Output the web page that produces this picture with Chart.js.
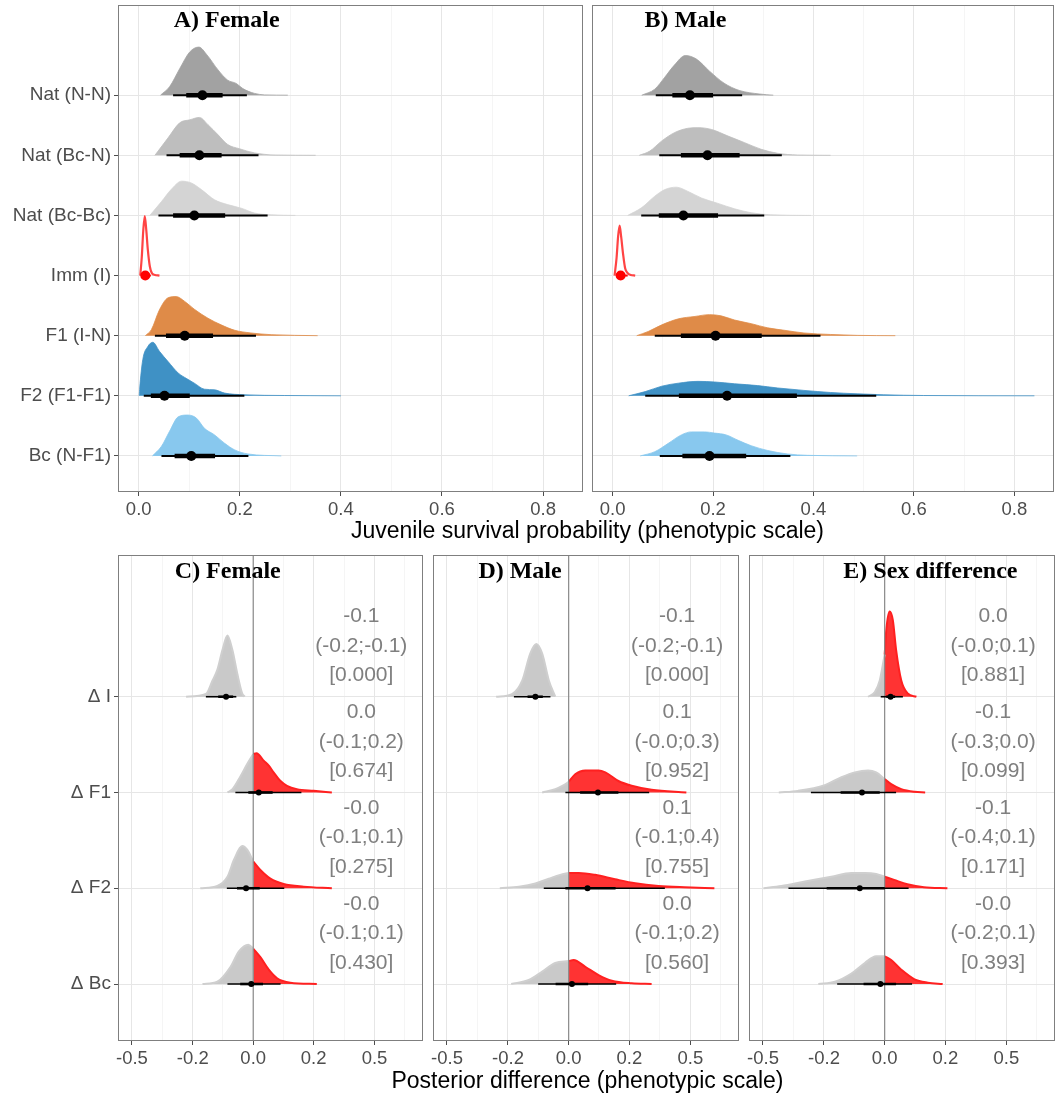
<!DOCTYPE html>
<html>
<head>
<meta charset="utf-8">
<script src="https://cdn.jsdelivr.net/npm/chart.js@4.4.1/dist/chart.umd.min.js"></script>
<style>
  body { margin: 0; background: #fff; width: 1059px; height: 1094px; position: relative; overflow: hidden;
         font-family: "Liberation Sans", Arial, sans-serif; }
  canvas { position: absolute; }
  .xtitle { position: absolute; left: 0; width: 1175px; text-align: center; font-size: 23px; color: #000; line-height: 26px; }
</style>
</head>
<body>
<canvas id="panelA" width="588" height="520" style="left:0;top:0"></canvas>
<canvas id="panelB" width="491" height="520" style="left:568px;top:0"></canvas>
<canvas id="panelC" width="427" height="530" style="left:0;top:540px"></canvas>
<canvas id="panelD" width="334" height="530" style="left:409px;top:540px"></canvas>
<canvas id="panelE" width="334" height="530" style="left:725px;top:540px"></canvas>
<div class="xtitle" style="top:517px">Juvenile survival probability (phenotypic scale)</div>
<div class="xtitle" style="top:1067px">Posterior difference (phenotypic scale)</div>
<script>
// ---- survival (top row) ----
const survivalRows = ["Nat (N-N)", "Nat (Bc-N)", "Nat (Bc-Bc)", "Imm (I)", "F1 (I-N)", "F2 (F1-F1)", "Bc (N-F1)"];
const survivalTicks = [0, 0.2, 0.4, 0.6, 0.8];
const survivalMinor = [0.1, 0.3, 0.5, 0.7];

// posterior density outlines: [survival, height in row units]
const femaleDensity = [
  [[0.043,0],[0.061,0.14],[0.081,0.44],[0.101,0.72],[0.119,0.80],[0.135,0.67],[0.157,0.42],[0.176,0.25],[0.193,0.195],[0.206,0.11],[0.229,0.03],[0.249,0.005],[0.295,0]],
  [[0.032,0],[0.058,0.29],[0.081,0.54],[0.101,0.59],[0.12,0.63],[0.137,0.51],[0.157,0.34],[0.176,0.18],[0.199,0.11],[0.229,0.04],[0.27,0.005],[0.35,0]],
  [[0.022,0],[0.045,0.23],[0.064,0.43],[0.085,0.57],[0.104,0.54],[0.124,0.43],[0.15,0.26],[0.176,0.18],[0.203,0.12],[0.229,0.04],[0.262,0.01],[0.31,0]],
  [[0.003,0],[0.006,0.3],[0.009,0.75],[0.012,0.99],[0.015,0.75],[0.018,0.43],[0.022,0.15],[0.026,0.04],[0.032,0.01],[0.041,0]],
  [[0.013,0],[0.025,0.1],[0.041,0.43],[0.058,0.63],[0.074,0.65],[0.091,0.57],[0.11,0.44],[0.137,0.29],[0.163,0.18],[0.19,0.09],[0.222,0.045],[0.262,0.017],[0.354,0]],
  [[0.001,0],[0.002,0.13],[0.008,0.6],[0.018,0.82],[0.028,0.89],[0.041,0.74],[0.058,0.57],[0.078,0.38],[0.094,0.29],[0.11,0.21],[0.13,0.11],[0.15,0.1],[0.17,0.045],[0.209,0.017],[0.288,0.005],[0.4,0]],
  [[0.027,0],[0.045,0.16],[0.061,0.41],[0.078,0.65],[0.097,0.68],[0.114,0.63],[0.13,0.46],[0.15,0.35],[0.17,0.21],[0.19,0.1],[0.216,0.033],[0.282,0]]
];
const maleDensity = [
  [[0.058,0],[0.084,0.1],[0.104,0.3],[0.123,0.5],[0.145,0.66],[0.167,0.6],[0.193,0.4],[0.222,0.2],[0.252,0.08],[0.292,0.02],[0.32,0]],
  [[0.053,0],[0.074,0.07],[0.098,0.24],[0.124,0.38],[0.15,0.45],[0.17,0.46],[0.197,0.43],[0.23,0.32],[0.263,0.21],[0.296,0.1],[0.329,0.033],[0.368,0.005],[0.434,0]],
  [[0.030,0],[0.058,0.13],[0.084,0.32],[0.104,0.43],[0.127,0.47],[0.15,0.4],[0.177,0.29],[0.21,0.2],[0.243,0.11],[0.276,0.045],[0.315,0.01],[0.395,0]],
  [[0.004,0],[0.008,0.3],[0.011,0.65],[0.014,0.83],[0.017,0.65],[0.021,0.35],[0.025,0.12],[0.03,0.04],[0.036,0.01],[0.045,0]],
  [[0.048,0],[0.071,0.07],[0.098,0.18],[0.131,0.28],[0.164,0.32],[0.193,0.35],[0.216,0.33],[0.243,0.26],[0.276,0.2],[0.309,0.13],[0.342,0.09],[0.381,0.045],[0.434,0.02],[0.487,0.005],[0.563,0]],
  [[0.032,0],[0.065,0.07],[0.098,0.16],[0.131,0.21],[0.17,0.24],[0.203,0.23],[0.243,0.2],[0.289,0.17],[0.329,0.13],[0.381,0.09],[0.434,0.055],[0.487,0.033],[0.54,0.017],[0.619,0.005],[0.84,0]],
  [[0.055,0],[0.084,0.07],[0.111,0.21],[0.137,0.35],[0.157,0.4],[0.183,0.4],[0.203,0.38],[0.226,0.35],[0.25,0.26],[0.276,0.17],[0.309,0.09],[0.348,0.033],[0.388,0.01],[0.487,0]]
];
// [median, 66% low, 66% high, 95% low, 95% high]
const femaleIntervals = [
  [0.126, 0.094, 0.166, 0.068, 0.214],
  [0.120, 0.081, 0.164, 0.055, 0.237],
  [0.110, 0.068, 0.171, 0.039, 0.255],
  [0.013, 0.010, 0.017, 0.007, 0.024],
  [0.091, 0.054, 0.147, 0.032, 0.232],
  [0.051, 0.024, 0.101, 0.010, 0.209],
  [0.104, 0.071, 0.151, 0.045, 0.217]
];
const maleIntervals = [
  [0.154, 0.119, 0.200, 0.086, 0.258],
  [0.189, 0.136, 0.253, 0.093, 0.337],
  [0.141, 0.092, 0.210, 0.057, 0.302],
  [0.016, 0.012, 0.021, 0.008, 0.030],
  [0.205, 0.136, 0.297, 0.084, 0.414],
  [0.228, 0.132, 0.367, 0.065, 0.525],
  [0.193, 0.139, 0.266, 0.094, 0.354]
];

// ---- differences (bottom row) ----
const diffRows = ["\u0394 I", "\u0394 F1", "\u0394 F2", "\u0394 Bc"];
const diffTicks = [-0.5, -0.2, 0, 0.2, 0.5];

const femaleDiffDensity = [
  [[-0.226,0],[-0.152,0.028],[-0.129,0.17],[-0.113,0.28],[-0.096,0.49],[-0.080,0.64],[-0.0645,0.49],[-0.049,0.24],[-0.034,0.035],[-0.026,0]],
  [[-0.080,0],[-0.064,0.035],[-0.039,0.17],[-0.018,0.30],[0,0.40],[0.01,0.41],[0.033,0.33],[0.048,0.28],[0.063,0.21],[0.085,0.12],[0.106,0.07],[0.139,0.035],[0.2,0.017],[0.274,0]],
  [[-0.172,0],[-0.113,0.024],[-0.08,0.12],[-0.059,0.30],[-0.034,0.44],[-0.018,0.40],[0,0.28],[0.022,0.19],[0.053,0.10],[0.095,0.045],[0.163,0.017],[0.274,0]],
  [[-0.164,0],[-0.113,0.024],[-0.07,0.18],[-0.044,0.34],[-0.015,0.41],[0,0.37],[0.022,0.28],[0.048,0.15],[0.074,0.06],[0.117,0.014],[0.212,0]]
];
const maleDiffDensity = [
  [[-0.247,0],[-0.185,0.028],[-0.148,0.17],[-0.121,0.45],[-0.101,0.55],[-0.082,0.45],[-0.061,0.17],[-0.041,0]],
  [[-0.082,0],[-0.041,0.035],[-0.015,0.077],[0,0.11],[0.02,0.19],[0.051,0.23],[0.093,0.23],[0.115,0.21],[0.16,0.12],[0.209,0.07],[0.292,0.028],[0.475,0]],
  [[-0.232,0],[-0.16,0.017],[-0.104,0.05],[-0.061,0.10],[-0.026,0.14],[0,0.16],[0.031,0.16],[0.082,0.14],[0.148,0.094],[0.223,0.052],[0.324,0.024],[0.465,0.01],[0.675,0]],
  [[-0.188,0],[-0.126,0.042],[-0.082,0.13],[-0.041,0.22],[0,0.24],[0.015,0.25],[0.051,0.18],[0.093,0.094],[0.137,0.035],[0.209,0.007],[0.292,0]]
];
const sexDiffDensity = [
  [[-0.051,0],[-0.030,0.05],[-0.015,0.17],[0,0.44],[0.005,0.70],[0.015,0.89],[0.025,0.80],[0.035,0.49],[0.051,0.17],[0.071,0.035],[0.099,0]],
  [[-0.406,0],[-0.309,0.017],[-0.197,0.077],[-0.137,0.16],[-0.093,0.21],[-0.051,0.23],[-0.026,0.21],[0,0.14],[0.02,0.087],[0.051,0.035],[0.093,0.007],[0.128,0]],
  [[-0.497,0],[-0.392,0.024],[-0.278,0.07],[-0.173,0.12],[-0.104,0.16],[-0.061,0.16],[-0.026,0.15],[0,0.12],[0.029,0.087],[0.07,0.042],[0.124,0.01],[0.208,0]],
  [[-0.222,0],[-0.16,0.024],[-0.104,0.11],[-0.061,0.22],[-0.026,0.29],[0,0.29],[0.02,0.25],[0.051,0.15],[0.093,0.049],[0.137,0.014],[0.19,0]]
];
// [median, 66% low, 66% high, 95% low, 95% high]
const femaleDiffIntervals = [
  [-0.0845, -0.110, -0.062, -0.152, -0.052],
  [0.017, -0.015, 0.060, -0.055, 0.155],
  [-0.022, -0.050, 0.020, -0.082, 0.097],
  [-0.006, -0.040, 0.030, -0.080, 0.085]
];
const maleDiffIntervals = [
  [-0.104, -0.130, -0.080, -0.178, -0.056],
  [0.091, 0.035, 0.160, -0.010, 0.281],
  [0.058, -0.010, 0.150, -0.077, 0.355],
  [0.010, -0.040, 0.060, -0.095, 0.152]
];
const sexDiffIntervals = [
  [0.018, 0.005, 0.032, -0.012, 0.056],
  [-0.070, -0.140, -0.015, -0.252, 0.035],
  [-0.077, -0.190, 0.000, -0.355, 0.074],
  [-0.013, -0.065, 0.035, -0.152, 0.085]
];
// posterior probability of a positive difference
const femaleDiffProb = ["0.000", "0.674", "0.275", "0.430"];
const maleDiffProb = ["0.000", "0.952", "0.755", "0.560"];
const sexDiffProb = ["0.881", "0.099", "0.171", "0.393"];

// ---- styling ----
const FONT = "'Liberation Sans', Arial, sans-serif";
const TITLE_FONT = "bold 24px 'Liberation Serif', 'Times New Roman', serif";
const survivalFill = ["#a2a2a2", "#bebebe", "#d4d4d4", null, "#df8b48", "#3f91c5", "#88c8ee"];
const IMM_RED = "#ff4444";
const GREY_FILL = "#c9c9c9";
const RED_FILL = "#ff3333";
const DIFF_SIGMA = 0.27;       // asinh-style stretch of the difference axis
const STAT_X = 0.42;           // where the summary text sits (difference units)
const STAT_DY = 0.53;          // middle line of the summary, above its row

function stepOf(v) {
  return 2 * Math.asinh(v / DIFF_SIGMA) / Math.asinh(0.5 / DIFF_SIGMA);
}

function gridTicks(majors, minors, fmt) {
  const ticks = majors.map(v => ({ value: v, label: fmt(v) }))
    .concat(minors.map(v => ({ value: v, label: "", minor: true })));
  return ticks.sort((a, b) => a.value - b.value);
}

function xAxis(min, max, ticks, height) {
  return {
    type: "linear", min: min, max: max,
    afterBuildTicks: s => { s.ticks = ticks.map(t => Object.assign({}, t)); },
    afterFit: s => { s.height = height; s.paddingLeft = 0; s.paddingRight = 0; },
    ticks: {
      autoSkip: false, maxRotation: 0, padding: 3, color: "#4d4d4d",
      font: { family: FONT, size: 18.5 },
      callback: function (v, i) { return this.ticks[i].label; }
    },
    grid: {
      color: c => (c.tick && c.tick.minor ? "#f3f3f3" : "#e6e6e6"),
      lineWidth: c => (c.tick && c.tick.minor ? 0.8 : 1),
      tickColor: c => (c.tick && c.tick.minor ? "rgba(0,0,0,0)" : "#4d4d4d"),
      tickLength: 4, drawTicks: true
    },
    border: { display: false }
  };
}

function yAxis(min, max, labels, showLabels) {
  const n = labels.length;
  return {
    type: "linear", min: min, max: max,
    afterBuildTicks: s => { s.ticks = labels.map((l, i) => ({ value: n - i })); },
    afterFit: s => { s.width = showLabels ? 118 : 0; s.paddingTop = 0; s.paddingBottom = 0; },
    ticks: {
      display: showLabels, autoSkip: false, padding: 3, color: "#4d4d4d",
      font: { family: FONT, size: 19 },
      callback: v => labels[n - v]
    },
    grid: { color: "#e6e6e6", lineWidth: 1, tickColor: "#4d4d4d", tickLength: 4, drawTicks: showLabels },
    border: { display: false }
  };
}

function curveSet(pts, row, xf, style) {
  return Object.assign({
    data: pts.map(p => ({ x: xf(p[0]), y: row + p[1] })),
    fill: { value: row }, pointRadius: 0, borderWidth: 1,
    cubicInterpolationMode: "monotone", order: 4
  }, style);
}

function intervalSets(iv, row, xf, colour, thin, thick, dot) {
  const seg = (a, b, w) => ({
    data: [{ x: xf(a), y: row }, { x: xf(b), y: row }],
    borderColor: colour, borderWidth: w, borderCapStyle: "butt",
    pointRadius: 0, fill: false, order: 2
  });
  return [
    seg(iv[3], iv[4], thin),
    seg(iv[1], iv[2], thick),
    { data: [{ x: xf(iv[0]), y: row }], showLine: false, pointRadius: dot,
      pointBackgroundColor: colour, pointBorderWidth: 0, order: 1 }
  ];
}

// frame round the panel, panel title and the difference summaries
const panelDecor = {
  id: "panelDecor",
  afterDraw(chart, args, opts) {
    const { ctx, chartArea: a, scales } = chart;
    ctx.save();
    ctx.strokeStyle = "#7f7f7f";
    ctx.lineWidth = 1;
    ctx.strokeRect(a.left + 0.5, a.top + 0.5, a.width - 1, a.height - 1);

    ctx.fillStyle = "#000";
    ctx.font = TITLE_FONT;
    ctx.textAlign = "center";
    ctx.textBaseline = "middle";
    ctx.fillText(opts.title, scales.x.getPixelForValue(opts.titleX), scales.y.getPixelForValue(opts.titleY));

    if (opts.stats) {
      ctx.fillStyle = "#7f7f7f";
      ctx.font = "21px " + FONT;
      const n = opts.stats.iv.length;
      opts.stats.iv.forEach((iv, i) => {
        const row = n - i;
        const lines = [iv[0].toFixed(1), "(" + iv[3].toFixed(1) + ";" + iv[4].toFixed(1) + ")", "[" + opts.stats.prob[i] + "]"];
        const px = scales.x.getPixelForValue(stepOf(STAT_X));
        const py = scales.y.getPixelForValue(row + STAT_DY);
        lines.forEach((t, k) => ctx.fillText(t, px, py + (k - 1) * 29.5));
      });
    }
    ctx.restore();
  }
};

// area = wanted plot rectangle inside the canvas; padding is nudged until the layout lands on it
function makeChart(id, datasets, scales, area, decor) {
  const canvas = document.getElementById(id);
  const pad = { left: 0, top: area.top, right: canvas.width - area.right, bottom: 0 };
  const chart = new Chart(canvas, {
    type: "line",
    data: { datasets: datasets },
    options: {
      responsive: false, animation: false, devicePixelRatio: 1,
      layout: { padding: Object.assign({}, pad) },
      plugins: { legend: { display: false }, tooltip: { enabled: false }, panelDecor: decor },
      scales: scales
    },
    plugins: [panelDecor]
  });
  for (let k = 0; k < 3; k++) {
    const a = chart.chartArea;
    pad.left = Math.max(0, pad.left + area.left - a.left);
    pad.top = Math.max(0, pad.top + area.top - a.top);
    pad.right = Math.max(0, pad.right + a.right - area.right);
    pad.bottom = Math.max(0, pad.bottom + a.bottom - area.bottom);
    chart.options.layout.padding = Object.assign({}, pad);
    chart.update();
  }
  return chart;
}

// ---- top row: survival ----
function survivalPanel(id, dens, ivs, showLabels, area, title, titleX) {
  const n = survivalRows.length;
  const lin = v => v;
  let sets = [];
  dens.forEach((pts, i) => {
    const row = n - i;
    const imm = survivalFill[i] === null;
    sets.push(curveSet(pts, row, lin, imm
      ? { fill: false, borderColor: IMM_RED, borderWidth: 2.2 }
      : { backgroundColor: survivalFill[i], borderColor: survivalFill[i], borderWidth: 0.8 }));
    sets = sets.concat(intervalSets(ivs[i], row, lin, imm ? "#ff0000" : "#000", 2, 4.5, 5));
  });
  const ticks = gridTicks(survivalTicks, survivalMinor, v => v.toFixed(1));
  return makeChart(id, sets, {
    x: xAxis(-0.041, 0.879, ticks, 28),
    y: yAxis(0.40, 8.50, survivalRows, showLabels)
  }, area, { title: title, titleX: titleX, titleY: 8.23 });
}

survivalPanel("panelA", femaleDensity, femaleIntervals, true, { left: 118, top: 5, right: 584, bottom: 492 }, "A) Female", 0.174);
survivalPanel("panelB", maleDensity, maleIntervals, false, { left: 24, top: 5, right: 489, bottom: 492 }, "B) Male", 0.145);

// ---- bottom row: differences ----
function diffPanel(id, dens, ivs, prob, showLabels, area, title, titleX) {
  const n = diffRows.length;
  let sets = [];
  dens.forEach((pts, i) => {
    const row = n - i;
    const neg = pts.filter(p => p[0] <= 0);
    const pos = pts.filter(p => p[0] >= 0);
    if (neg.length > 1) sets.push(curveSet(neg, row, stepOf, { backgroundColor: GREY_FILL, borderColor: "#cfcfcf", borderWidth: 2 }));
    if (pos.length > 1) sets.push(curveSet(pos, row, stepOf, { backgroundColor: RED_FILL, borderColor: "#ff2020", borderWidth: 2 }));
    sets = sets.concat(intervalSets(ivs[i], row, stepOf, "#000", 1.6, 2.6, 3));
  });
  // reference line at no difference
  sets.push({ data: [{ x: 0, y: 0 }, { x: 0, y: 6 }], borderColor: "#8a8a8a", borderWidth: 1.2,
              pointRadius: 0, fill: false, order: 3 });
  const majors = diffTicks.map(stepOf);
  const minors = [];
  for (let k = 0; k < majors.length - 1; k++) minors.push((majors[k] + majors[k + 1]) / 2);
  minors.push(majors[majors.length - 1] + (majors[majors.length - 1] - majors[majors.length - 2]) / 2);
  const ticks = gridTicks(majors, minors, v => diffTicks[majors.indexOf(v)].toFixed(1));
  return makeChart(id, sets, {
    x: xAxis(-2.23, 2.80, ticks, 29),
    y: yAxis(0.405, 5.48, diffRows, showLabels)
  }, area, { title: title, titleX: stepOf(titleX), titleY: 5.30, stats: { iv: ivs, prob: prob } });
}

diffPanel("panelC", femaleDiffDensity, femaleDiffIntervals, femaleDiffProb, true, { left: 118, top: 15, right: 425, bottom: 501 }, "C) Female", -0.079);
diffPanel("panelD", maleDiffDensity, maleDiffIntervals, maleDiffProb, false, { left: 24, top: 15, right: 332, bottom: 501 }, "D) Male", -0.156);
diffPanel("panelE", sexDiffDensity, sexDiffIntervals, sexDiffProb, false, { left: 24, top: 15, right: 332, bottom: 501 }, "E) Sex difference", 0.146);
</script>
</body>
</html>
